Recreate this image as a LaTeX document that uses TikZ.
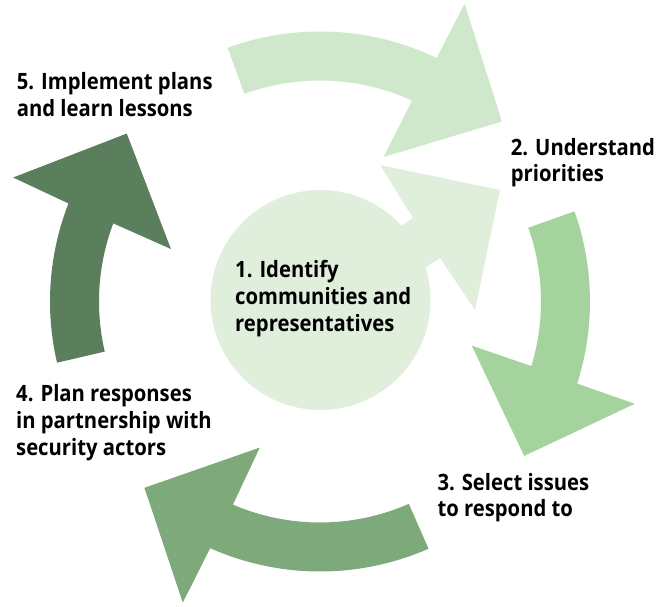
\documentclass[tikz,border=0pt]{standalone}
\usepackage{fontspec}
\setmainfont{Open Sans}[FakeStretch=0.9]
\definecolor{ringA}{HTML}{CFE7CB}
\definecolor{ringB}{HTML}{A5D39D}
\definecolor{ringC}{HTML}{7DA97B}
\definecolor{ringD}{HTML}{5B7F5D}
\definecolor{hub}{HTML}{E0EFDC}
% radii of the ring arrows
\def\Ro{270}  % outer edge of the band
\def\Ri{221}  % inner edge of the band
\def\Rbo{331} % outer barb
\def\Rbi{158} % inner barb
\def\Rt{256}  % tip
% curved band arrow: colour, tail, outer/inner base, outer/inner barb, tip angles
\newcommand\ringarrow[7]{%
  \fill[#1] (#2:\Ro) arc[start angle=#2, end angle=#3, radius=\Ro]
    -- (#5:\Rbo) -- (#7:\Rt) -- (#6:\Rbi) -- (#4:\Ri)
    arc[start angle=#4, end angle=#2, radius=\Ri] -- cycle;}
% left-aligned lines whose baseline is that of the first line
\newcommand\steplines[1]{\begin{tabular}[t]{@{}l@{}}#1\end{tabular}}
\tikzset{
  steplabel/.style={anchor=base west, inner sep=0pt,
    font=\fontsize{22.5}{26.7}\selectfont\bfseries, text=black}
}
\begin{document}
\begin{tikzpicture}[x=1pt, y=1pt]
  \useasboundingbox (-320,-304.5) rectangle (336,301.5);

  % ring of four curved arrows, clockwise
  \ringarrow{ringA}{110}{64.4}{65.4}{64.1}{66.2}{44.7}
  \ringarrow{ringB}{19.5}{-17.7}{-17.0}{-18.0}{-16.2}{-37.1}
  \ringarrow{ringC}{-66.3}{-114.0}{-113.2}{-114.5}{-112.4}{-133.3}
  \ringarrow{ringD}{193.1}{158.7}{159.3}{158.0}{160.6}{139.0}

  % hub with its straight arrow
  \fill[hub] (0.5,1.5) circle[radius=110];
  \fill[hub] (17.8,34.2) -- (93,83.5) -- (60,136.5) -- (180,111.5)
    -- (155,-8.5) -- (120,43.5) -- (44.8,-5.8) -- cycle;

  % step labels
  \node[steplabel] (s1) at (-85,23.8)
    {\steplines{1. Identify\\communities and\\representatives}};
  \node[steplabel] (s2) at (190.7,146.5)
    {\steplines{2. Understand\\priorities}};
  \node[steplabel] (s3) at (117.3,-188.5)
    {\steplines{3. Select issues\\to respond to}};
  \node[steplabel] (s4) at (-304,-100.2)
    {\steplines{4. Plan responses\\in partnership with\\security actors}};
  \node[steplabel] (s5) at (-303.3,212.2)
    {\steplines{5. Implement plans\\and learn lessons}};
\end{tikzpicture}
\end{document}
